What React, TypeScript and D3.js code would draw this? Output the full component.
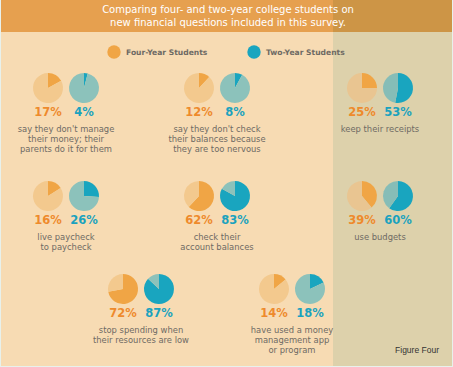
import React from "react";
import { pie, arc, scaleOrdinal } from "d3";

// values
const descriptions = [
  ["say they don't manage", "their money; their", "parents do it for them"],
  ["say they don't check", "their balances because", "they are too nervous"],
  ["keep their receipts"],
  ["live paycheck", "to paycheck"],
  ["check their", "account balances"],
  ["use budgets"],
  ["stop spending when", "their resources are low"],
  ["have used a money", "management app", "or program"],
];
const fourYear = [17, 12, 25, 16, 62, 39, 72, 14];
const twoYear = [4, 8, 53, 26, 83, 60, 87, 18];
const seriesNames = ["Four-Year Students", "Two-Year Students"];
const titleLines = [
  "Comparing four- and two-year college students on",
  "new financial questions included in this survey.",
];

// layout slots for each group (row, column key)
const slots: [string, string][] = [
  ["r1", "a"], ["r1", "b"], ["r1", "c"],
  ["r2", "a"], ["r2", "b"], ["r2", "c"],
  ["r3", "ab"], ["r3", "bc"],
];

const W = 453;
const H = 367;
const R = 15;
const GAP = 36;
const PANEL_X = 333;
const FONT = "DejaVu Sans";

const colors = {
  bg: "#F7DBB3",
  panel: "#DDD1AB",
  header: "#E6A04F",
  headerPanel: "#CD9546",
  orangeDark: "#F0A545",
  orangeLight: "#F3C98E",
  orangeLightPanel: "#E9C591",
  tealDark: "#19A5BF",
  tealLight: "#8CC2BB",
  tealLightPanel: "#86BDB7",
  orangeText: "#EE8A2C",
  tealText: "#1AA2BE",
  gray: "#6E6A64",
};

const App = () => {
  const colX = scaleOrdinal<string, number>()
    .domain(["a", "ab", "b", "bc", "c"])
    .range([66, 141, 217, 292, 380]);
  const rowY = scaleOrdinal<string, number>()
    .domain(["r1", "r2", "r3"])
    .range([88, 196, 289]);

  const pieGen = pie<number>().sort(null).value((d) => d);
  const arcGen = arc<any>().innerRadius(0).outerRadius(R);

  const pieMark = (v: number, cx: number, cy: number, dark: string, light: string) => {
    const slices = pieGen([v, 100 - v]);
    return (
      <g transform={`translate(${cx},${cy})`}>
        {slices.map((s, i) => (
          <path key={i} d={arcGen(s) as string} fill={i === 0 ? dark : light} />
        ))}
      </g>
    );
  };

  return (
    <svg
      width={W}
      height={H}
      style={{ position: "absolute", left: 0, top: 0, display: "block" }}
    >
      <rect x={0} y={0} width={W} height={H} fill="#E8F1EC" />
      <rect x={1} y={0} width={W - 2} height={H - 1} fill={colors.bg} />
      <rect x={PANEL_X} y={0} width={W - 1 - PANEL_X} height={H - 1} fill={colors.panel} />
      <rect x={1} y={0} width={PANEL_X - 1} height={32} fill={colors.header} />
      <rect x={PANEL_X} y={0} width={W - 1 - PANEL_X} height={32} fill={colors.headerPanel} />
      {titleLines.map((t, i) => (
        <text
          key={i}
          x={228}
          y={12.8 + i * 13}
          textAnchor="middle"
          fill="#FFFFFF"
          fontFamily={FONT}
          fontSize={10}
        >
          {t}
        </text>
      ))}

      {/* legend */}
      {seriesNames.map((n, i) => (
        <g key={n} transform={`translate(${114 + i * 140},52)`}>
          <circle r={6.7} fill={i === 0 ? colors.orangeDark : colors.tealDark} />
          <text
            x={12}
            y={3}
            fill={colors.gray}
            fontFamily={FONT}
            fontWeight="bold"
            fontSize={7.6}
          >
            {n}
          </text>
        </g>
      ))}

      {descriptions.map((lines, i) => {
        const cx = colX(slots[i][1]);
        const cy = rowY(slots[i][0]);
        const x1 = cx - GAP / 2;
        const x2 = cx + GAP / 2;
        const inPanel = cx > PANEL_X;
        return (
          <g key={i}>
            {pieMark(
              fourYear[i], x1, cy, colors.orangeDark,
              inPanel ? colors.orangeLightPanel : colors.orangeLight
            )}
            {pieMark(
              twoYear[i], x2, cy, colors.tealDark,
              inPanel ? colors.tealLightPanel : colors.tealLight
            )}
            <text
              x={x1}
              y={cy + 28}
              textAnchor="middle"
              fill={colors.orangeText}
              fontFamily={FONT}
              fontWeight="bold"
              fontSize={11.5}
            >
              {fourYear[i]}%
            </text>
            <text
              x={x2}
              y={cy + 28}
              textAnchor="middle"
              fill={colors.tealText}
              fontFamily={FONT}
              fontWeight="bold"
              fontSize={11.5}
            >
              {twoYear[i]}%
            </text>
            {lines.map((l, j) => (
              <text
                key={j}
                x={cx}
                y={cy + 44 + j * 10}
                textAnchor="middle"
                fill={colors.gray}
                fontFamily={FONT}
                fontSize={8.4}
              >
                {l}
              </text>
            ))}
          </g>
        );
      })}

      <text
        x={439}
        y={353}
        textAnchor="end"
        fill="#333333"
        fontFamily="Liberation Sans"
        fontSize={8.5}
      >
        Figure Four
      </text>
    </svg>
  );
};

export default App;
